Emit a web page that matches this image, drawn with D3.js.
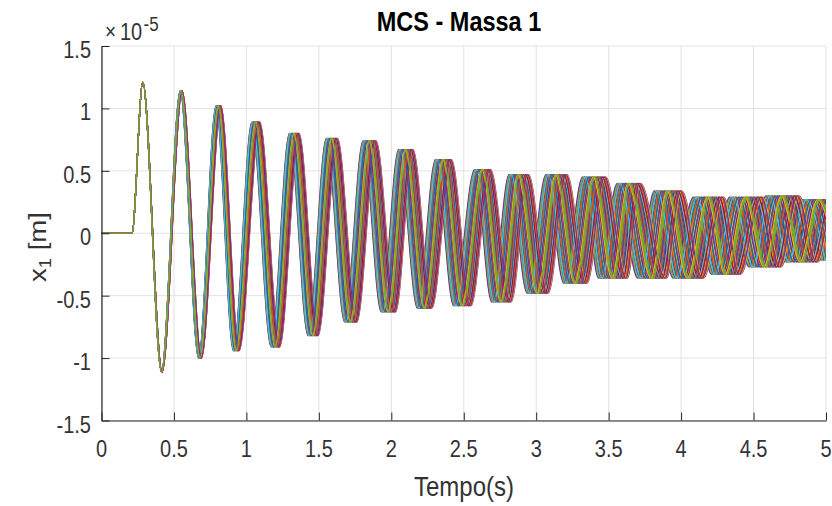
<!DOCTYPE html>
<html>
<head>
<meta charset="utf-8">
<script src="https://cdn.jsdelivr.net/npm/d3@7"></script>
<style>
  body { margin: 0; background: #fff; }
  svg { display: block; font-family: "Liberation Sans", Arial, Helvetica, sans-serif; }
</style>
</head>
<body>
<div id="chart"></div>
<script>
// extrema of the mass 1 response (t in s, x1 in 1e-5 m)
const extremaTime = [0, 0.21,
    0.285, 0.416, 0.55, 0.68, 0.807, 0.93, 1.065, 1.20, 1.33, 1.46,
    1.59, 1.72, 1.85, 1.98, 2.10, 2.23, 2.36, 2.49, 2.63, 2.76,
    2.88, 3.01, 3.14, 3.27, 3.40, 3.53, 3.64, 3.80, 3.91, 4.05,
    4.19, 4.31, 4.45, 4.58, 4.70, 4.83, 4.95, 5.08];
const extremaValue = [0, 0,
    1.21, -1.11, 1.14, -1.0, 1.02, -0.94, 0.89, -0.91, 0.80, -0.82,
    0.76, -0.71, 0.74, -0.63, 0.67, -0.60, 0.59, -0.58, 0.51, -0.55,
    0.47, -0.48, 0.47, -0.40, 0.45, -0.36, 0.40, -0.36, 0.34, -0.36,
    0.29, -0.33, 0.29, -0.27, 0.30, -0.23, 0.27, -0.22];
// how wide (in s) the bundle of runs is at each extremum
const extremaSpread = [0, 0,
    0, 0.005, 0.014, 0.02, 0.034, 0.04, 0.055, 0.06, 0.067, 0.07,
    0.077, 0.085, 0.09, 0.1, 0.1, 0.1, 0.11, 0.12, 0.11, 0.135,
    0.135, 0.145, 0.145, 0.16, 0.16, 0.2, 0.16, 0.2, 0.19, 0.21,
    0.21, 0.2, 0.23, 0.22, 0.23, 0.23, 0.23, 0.23];

// position of each monte carlo run inside the bundle (-0.5 early .. 0.5 late)
const runShift = [0.12, -0.37, 0.44, -0.05, 0.29, -0.48, 0.07, -0.21, 0.36, -0.13,
    0.50, -0.31, 0.18, -0.42, 0.01, 0.25, -0.27, 0.40, -0.09, -0.46,
    0.33, -0.16, 0.10, -0.35, 0.47, -0.02, 0.21, -0.40, 0.14, -0.24,
    0.38, -0.50, 0.05, -0.11, 0.27, -0.33, 0.42, -0.19, 0.16, -0.44,
    0.31, -0.07, 0.23, -0.29, 0.48, -0.14, 0.03, -0.38, 0.35, -0.22,
    0.19, -0.04, 0.45, 0.0];
const runColors = ['#0072BD', '#D95319', '#EDB120', '#7E2F8E', '#77AC30', '#4DBEEE', '#A2142F'];

const xTicks = [0, 0.5, 1, 1.5, 2, 2.5, 3, 3.5, 4, 4.5, 5];
const xTickLabels = ['0', '0.5', '1', '1.5', '2', '2.5', '3', '3.5', '4', '4.5', '5'];
const yTicks = [-1.5, -1, -0.5, 0, 0.5, 1, 1.5];
const yTickLabels = ['-1.5', '-1', '-0.5', '0', '0.5', '1', '1.5'];

const titleText = 'MCS - Massa 1';
const xLabel = 'Tempo(s)';

const W = 832, H = 506;
const axisColor = '#262626';
const sy = 1.15;   // the picture is a little taller than it is wide

const svg = d3.select('#chart').append('svg')
    .attr('width', W)
    .attr('height', H);

svg.append('rect').attr('width', W).attr('height', H).attr('fill', '#fff');

const x = d3.scaleLinear().domain([0, 5]).range([101.5, 826]);
const y = d3.scaleLinear().domain([-1.5, 1.5]).range([420.5, 46]);

// text drawn stretched vertically like the original
function label(parent, px, py, str, size, anchor, weight) {
    return parent.append('g')
        .attr('transform', 'translate(' + px + ',' + py + ') scale(1,' + sy + ')')
        .append('text')
        .attr('text-anchor', anchor)
        .attr('font-size', size)
        .attr('font-weight', weight || 'normal')
        .attr('fill', axisColor)
        .text(str);
}

// grid
const grid = svg.append('g');
grid.selectAll('.vg').data(xTicks).enter().append('line')
    .attr('x1', d => x(d)).attr('x2', d => x(d))
    .attr('y1', y(1.5)).attr('y2', y(-1.5))
    .attr('stroke', '#e2e2e2').attr('stroke-width', 1);
grid.selectAll('.hg').data(yTicks).enter().append('line')
    .attr('x1', x(0)).attr('x2', x(5))
    .attr('y1', d => y(d)).attr('y2', d => y(d))
    .attr('stroke', '#e2e2e2').attr('stroke-width', 1);

// runs
svg.append('clipPath').attr('id', 'plotclip')
    .append('rect')
    .attr('x', x(0)).attr('y', y(1.5))
    .attr('width', x(5) - x(0)).attr('height', y(-1.5) - y(1.5));

const line = d3.line()
    .x(d => x(d[0]))
    .y(d => y(d[1]))
    .curve(d3.curveMonotoneX);

const runs = svg.append('g').attr('clip-path', 'url(#plotclip)');
runShift.forEach(function (s, i) {
    const pts = extremaTime.map((t, k) => [t + s * extremaSpread[k], extremaValue[k]]);
    runs.append('path')
        .datum(pts)
        .attr('fill', 'none')
        .attr('stroke', runColors[i % runColors.length])
        .attr('stroke-width', 1.2)
        .attr('d', line);
});

// axes, ticks pointing inside
svg.append('g')
    .attr('transform', 'translate(0,' + y(-1.5) + ')')
    .attr('color', axisColor)
    .call(d3.axisBottom(x).tickValues(xTicks).tickSizeInner(-8).tickSizeOuter(0).tickFormat(() => ''));

svg.append('g')
    .attr('transform', 'translate(' + x(0) + ',0)')
    .attr('color', axisColor)
    .call(d3.axisLeft(y).tickValues(yTicks).tickSizeInner(-8).tickSizeOuter(0).tickFormat(() => ''));

svg.selectAll('.domain').attr('stroke-width', 1.2);

// tick labels
xTicks.forEach((t, i) => label(svg, x(t), 457, xTickLabels[i], 20, 'middle').attr('fill', '#333'));
yTicks.forEach((t, i) => label(svg, 91, y(t) + 12, yTickLabels[i], 20, 'end').attr('fill', '#333'));

// exponent
label(svg, 105, 39, '\u00d7', 19, 'start').attr('fill', '#333');
label(svg, 120, 40, '10', 20, 'start').attr('fill', '#333');
label(svg, 143.5, 31, '-5', 17, 'start').attr('fill', '#333');

// title and axis labels
label(svg, 459, 31, titleText, 23.5, 'middle', 'bold').attr('fill', '#000');
label(svg, 464, 496, xLabel, 24, 'middle').attr('fill', '#333');

const yl = svg.append('g')
    .attr('transform', 'translate(46,247) scale(1,' + sy + ') rotate(-90)')
    .append('text')
    .attr('text-anchor', 'middle')
    .attr('font-size', 24)
    .attr('fill', '#333');
yl.append('tspan').text('x');
yl.append('tspan').attr('font-size', 16).attr('dy', 5).text('1');
yl.append('tspan').attr('dy', -5).text(' [m]');
</script>
</body>
</html>
